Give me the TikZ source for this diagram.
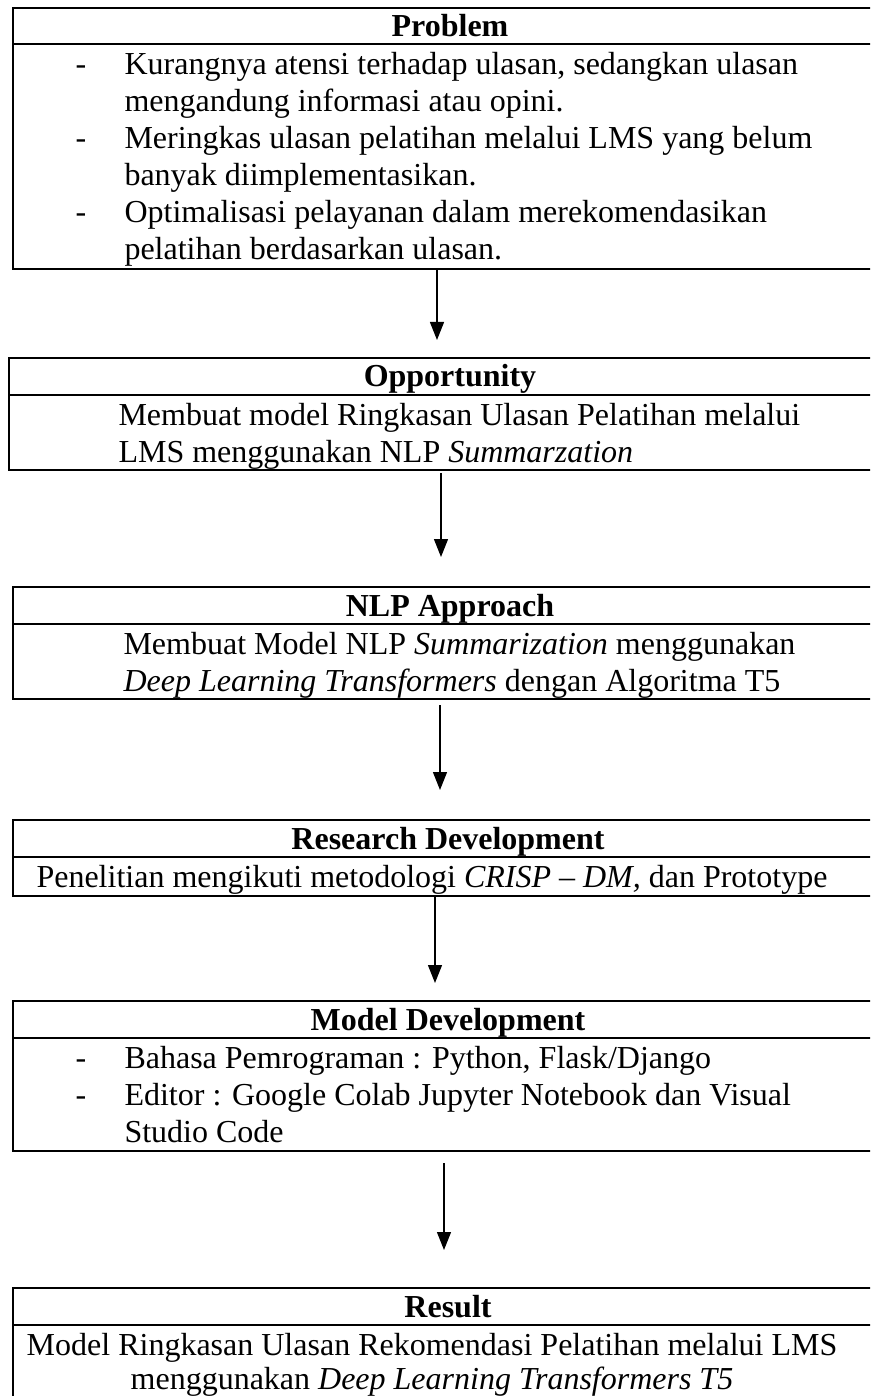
\documentclass[tikz,border=0pt]{standalone}
\usepackage{fontspec}
\setmainfont{Liberation Serif}
\usetikzlibrary{arrows.meta}
\tikzset{
  every node/.style={font=\fontsize{12pt}{13.8pt}\selectfont},
  frame/.style={draw, line width=0.75pt, rectangle, inner sep=0pt},
  rule/.style={line width=0.75pt},
  ttl/.style={anchor=base, font=\fontsize{12pt}{13.8pt}\selectfont\bfseries, inner sep=0pt},
  txt/.style={anchor=base west, inner sep=0pt},
  ctxt/.style={anchor=base, inner sep=0pt},
  bullet/.style={anchor=base west, inner sep=0pt},
  flow/.style={line width=0.45pt, -{Triangle[length=6.75pt, width=5.25pt]}}
}
\newcommand\stagebox[5]{%
  \node[frame, minimum width={(885-#2)*0.375pt}, minimum height={(#5-#3)*0.375pt}, anchor=north west] (#1) at (#2,#3) {};
  \draw[rule] (#1.west |- 0,#4) -- (#1.east |- 0,#4);
}
\begin{document}
\begin{tikzpicture}[x=0.375pt, y=-0.375pt]
\useasboundingbox (0,0) rectangle (870,1396);
\clip (0,0) rectangle (870,1396);
\fill[white] (0,0) rectangle (870,1396);

% Problem
\stagebox{prob}{12}{7}{44}{268}
\node[ttl] (probt) at (450,37) {Problem};
\node[bullet] (pd1) at (75,74.5) {-};
\node[txt] (p1) at (124,74.5) {Kurangnya atensi terhadap ulasan, sedangkan ulasan};
\node[txt] (p2) at (124,111.5) {mengandung informasi atau opini.};
\node[bullet] (pd2) at (75,148.5) {-};
\node[txt] (p3) at (124,148.5) {Meringkas ulasan pelatihan melalui LMS yang belum};
\node[txt] (p4) at (124,185.5) {banyak diimplementasikan.};
\node[bullet] (pd3) at (75,222.5) {-};
\node[txt] (p5) at (124,222.5) {Optimalisasi pelayanan dalam merekomendasikan};
\node[txt] (p6) at (124,259.5) {pelatihan berdasarkan ulasan.};

% Opportunity
\stagebox{opp}{8}{357}{395}{469}
\node[ttl] (oppt) at (450,387) {Opportunity};
\node[txt] (o1) at (118,425.5) {Membuat model Ringkasan Ulasan Pelatihan melalui};
\node[txt] (o2) at (118,462.5) {LMS menggunakan NLP \textit{Summarzation}};

% NLP Approach
\stagebox{nlp}{12}{586}{624}{698}
\node[ttl] (nlpt) at (450,616) {NLP Approach};
\node[txt] (n1) at (123,654.5) {Membuat Model NLP \textit{Summarization} menggunakan};
\node[txt] (n2) at (123,691.5) {\textit{Deep Learning Transformers} dengan Algoritma T5};

% Research Development
\stagebox{res}{12}{819}{857}{895}
\node[ttl] (rest) at (448,849) {Research Development};
\node[ctxt] (r1) at (432,887.5) {Penelitian mengikuti metodologi \textit{CRISP – DM,} dan Prototype};

% Model Development
\stagebox{mod}{12}{1000}{1038}{1150}
\node[ttl] (modt) at (448,1030) {Model Development};
\node[bullet] (md1) at (75,1068.5) {-};
\node[txt] (m1) at (124,1068.5) {Bahasa Pemrograman : Python, Flask/Django};
\node[bullet] (md2) at (75,1105.5) {-};
\node[txt] (m2) at (124,1105.5) {Editor : Google Colab Jupyter Notebook dan Visual};
\node[txt] (m3) at (124,1142.5) {Studio Code};

% Result
\stagebox{resl}{12}{1287}{1325}{1402}
\node[ttl] (reslt) at (448,1317) {Result};
\node[ctxt] (s1) at (432,1355.5) {Model Ringkasan Ulasan Rekomendasi Pelatihan melalui LMS};
\node[ctxt] (s2) at (432,1389.5) {menggunakan \textit{Deep Learning Transformers T5}};

% arrows
\coordinate (a1s) at (437,270); \coordinate (a1e) at (437,340);
\coordinate (a2s) at (441,473); \coordinate (a2e) at (441,557);
\coordinate (a3s) at (440,705); \coordinate (a3e) at (440,790);
\coordinate (a4s) at (435,897); \coordinate (a4e) at (435,983);
\coordinate (a5s) at (444,1163); \coordinate (a5e) at (444,1250);
\draw[flow] (a1s) -- (a1e);
\draw[flow] (a2s) -- (a2e);
\draw[flow] (a3s) -- (a3e);
\draw[flow] (a4s) -- (a4e);
\draw[flow] (a5s) -- (a5e);
\end{tikzpicture}
\end{document}
